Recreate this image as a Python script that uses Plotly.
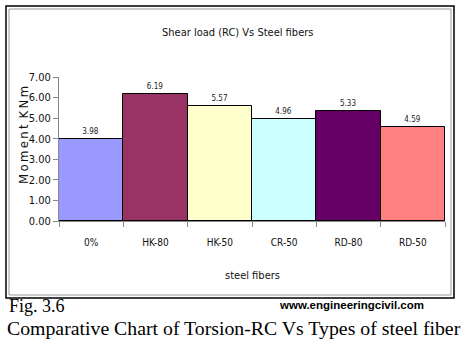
import plotly.graph_objects as go

categories = ["0%", "HK-80", "HK-50", "CR-50", "RD-80", "RD-50"]
moment = [3.98, 6.19, 5.57, 4.96, 5.33, 4.59]
value_labels = ["3.98", "6.19", "5.57", "4.96", "5.33", "4.59"]
bar_colors = ["#9999FF", "#993366", "#FFFFCC", "#CCFFFF", "#660066", "#FF8080"]
y_ticks = [0, 1, 2, 3, 4, 5, 6, 7]

W, H = 468, 351
L, R, T, B = 59, 23, 77, 130
PW, PH = W - L - R, H - T - B

def px(x):
    return (x - L) / PW

def py(y):
    return (H - B - y) / PH

narrow = "DejaVu Sans Condensed, Liberation Sans Narrow, Arial Narrow, sans-serif"
serif = "Liberation Serif, Times New Roman, serif"

fig = go.Figure(go.Bar(
    x=categories, y=moment,
    marker=dict(color=bar_colors, line=dict(color="black", width=1)),
    text=value_labels, textposition="outside", cliponaxis=False,
    textfont=dict(family=narrow, size=8, color="#222"),
    width=1.0,
))

def ann(text, x, y, font, xanchor="center", angle=0):
    return dict(text=text, xref="paper", yref="paper", x=px(x), y=py(y),
                xanchor=xanchor, yanchor="middle", textangle=angle,
                showarrow=False, font=font)

ts = "\u2009"
ytitle = ts.join("Moment") + ts + " " + ts.join("KNm")

fig.update_layout(
    width=W, height=H,
    margin=dict(l=L, r=R, t=T, b=B),
    paper_bgcolor="white", plot_bgcolor="white",
    bargap=0, showlegend=False,
    xaxis=dict(showline=True, linecolor="#888", linewidth=1, tickson="boundaries",
               ticks="outside", ticklen=5, tickcolor="#888",
               tickfont=dict(family=narrow, size=10, color="#111"),
               ticklabelstandoff=12),
    yaxis=dict(range=[0, 7], tickvals=y_ticks, tickformat=".2f",
               showline=True, linecolor="#888", linewidth=1, showgrid=False,
               ticks="outside", ticklen=5, tickcolor="#888", zeroline=False,
               tickfont=dict(family=narrow, size=11, color="#111")),
    shapes=[
        dict(type="rect", xref="paper", yref="paper", x0=px(6), x1=px(454), y0=py(6), y1=py(298),
             line=dict(color="black", width=1.5)),
        dict(type="rect", xref="paper", yref="paper", x0=px(9), x1=px(451), y0=py(9), y1=py(295),
             line=dict(color="#999", width=1)),
    ],
    annotations=[
        ann("Shear load (RC) Vs Steel fibers", 237, 32, dict(family=narrow, size=11, color="#111")),
        ann(ytitle, 23, 135, dict(family=narrow, size=13, color="#111"), angle=-90),
        ann("steel fibers", 252, 275, dict(family=narrow, size=11, color="#111")),
        ann("Fig. 3.6", 7, 306, dict(family=serif, size=18, color="black"), xanchor="left"),
        ann("<b>www.engineeringcivil.com</b>", 277, 305,
            dict(family="Liberation Sans, Arial", size=11.5, color="black"), xanchor="left"),
        ann("Comparative Chart of Torsion-RC Vs Types of steel fiber", 5, 328,
            dict(family=serif, size=19.8, color="black"), xanchor="left"),
    ],
)

fig.write_html("out.html")
